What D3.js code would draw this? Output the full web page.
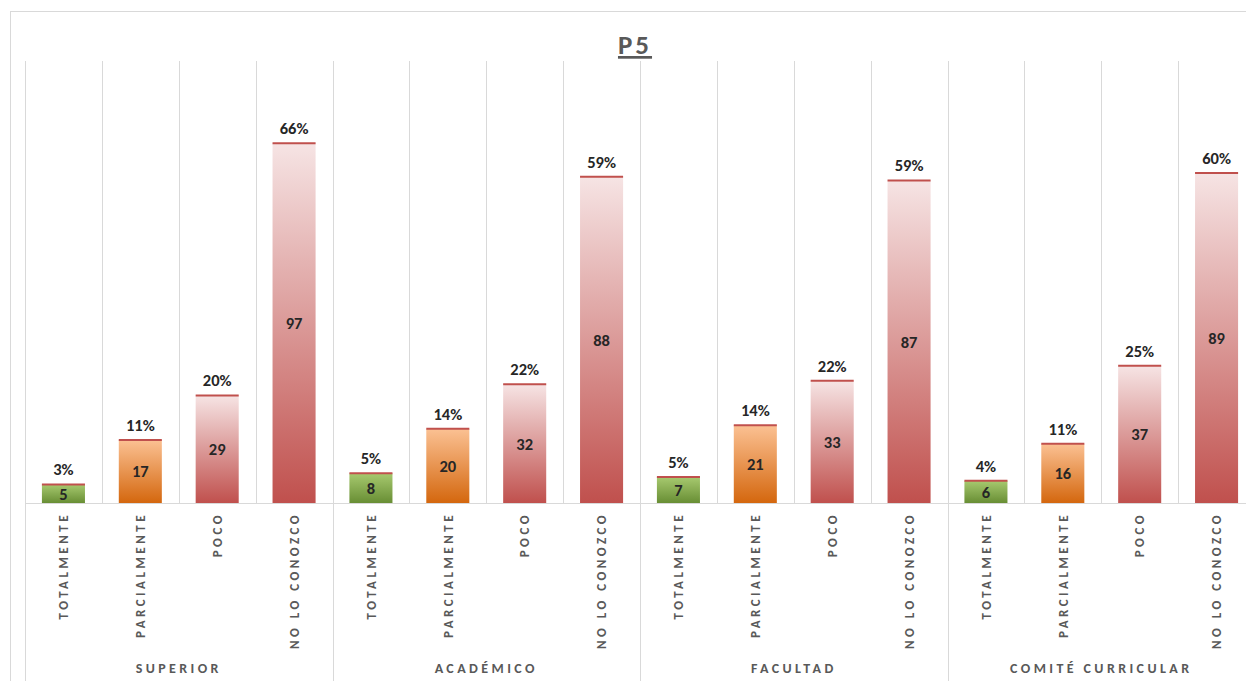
<!DOCTYPE html>
<meta charset="utf-8">
<head>
  <title>P5</title>
</head>

<style>
body { margin: 0; background: #fff; }
text {
  font-family: Calibri, Carlito, Lato, sans-serif;
  font-weight: bold;
}
.grid { stroke: #d9d9d9; stroke-width: 1; shape-rendering: crispEdges; }
.val { fill: #262626; font-size: 16.5px; text-anchor: middle; }
.tick { fill: #595959; font-size: 13px; letter-spacing: 3.5px; }
.group { fill: #595959; font-size: 14px; letter-spacing: 3.4px; text-anchor: middle; }
</style>

<body>
  <svg width="1246" height="681"></svg>

  <script src="https://cdnjs.cloudflare.com/ajax/libs/d3/7.8.5/d3.min.js"></script>
  <script>

var groups = ['SUPERIOR', 'ACADÉMICO', 'FACULTAD', 'COMITÉ CURRICULAR'];
var answers = ['TOTALMENTE', 'PARCIALMENTE', 'POCO', 'NO LO CONOZCO'];

// counts per group, in the order of answers
var counts = [
  [5, 17, 29, 97],
  [8, 20, 32, 88],
  [7, 21, 33, 87],
  [6, 16, 37, 89]
];
// percentage labels
var percents = [
  [3, 11, 20, 66],
  [5, 14, 22, 59],
  [5, 14, 22, 59],
  [4, 11, 25, 60]
];

var gradColors = [
  ['#a7c96f', '#688e34'],
  ['#fbc193', '#d4670e'],
  ['#f6e4e4', '#c0504d'],
  ['#f6e4e4', '#c0504d']
];

var rows = [];
groups.forEach(function(g, gi) {
  answers.forEach(function(a, ai) {
    rows.push({group: g, answer: a, ai: ai, key: g + '|' + a,
               count: counts[gi][ai], pct: percents[gi][ai]});
  });
});

var svg = d3.select('svg');
var left = 25, right = 1255, baseY = 503, topY = 58;

var x = d3.scaleBand()
  .domain(rows.map(function(d) { return d.key; }))
  .range([left, right])
  .paddingInner(0.44)
  .paddingOuter(0.22);

var gx = d3.scaleBand().domain(groups).range([left, right]);

var y = d3.scaleLinear().domain([0, 120]).range([baseY, topY]);

var defs = svg.append('defs');
gradColors.forEach(function(c, i) {
  var lg = defs.append('linearGradient')
    .attr('id', 'grad' + i)
    .attr('x1', 0).attr('y1', 0).attr('x2', 0).attr('y2', 1);
  lg.append('stop').attr('offset', '0%').attr('stop-color', c[0]);
  lg.append('stop').attr('offset', '100%').attr('stop-color', c[1]);
});

// chart frame
svg.append('rect')
  .attr('x', 10.5).attr('y', 11.5)
  .attr('width', 1260).attr('height', 700)
  .attr('fill', 'none')
  .attr('stroke', '#d9d9d9');

// vertical gridlines at each band boundary
var step = x.step();
var bounds = d3.range(rows.length + 1).map(function(i) { return left + i * step; });
svg.selectAll('.vg')
  .data(bounds)
  .enter()
  .append('line')
  .attr('class', 'grid')
  .attr('x1', function(d) { return Math.round(d) + 0.5; })
  .attr('x2', function(d) { return Math.round(d) + 0.5; })
  .attr('y1', 61)
  .attr('y2', function(d, i) { return i % 4 === 0 ? 690 : baseY; });

// category axis line
svg.append('line')
  .attr('class', 'grid')
  .attr('x1', left).attr('x2', right)
  .attr('y1', baseY + 0.5).attr('y2', baseY + 0.5);

var bars = svg.selectAll('.bar')
  .data(rows)
  .enter()
  .append('g');

bars.append('rect')
  .attr('x', function(d) { return x(d.key); })
  .attr('y', function(d) { return y(d.count); })
  .attr('width', x.bandwidth())
  .attr('height', function(d) { return baseY - y(d.count); })
  .attr('fill', function(d) { return 'url(#grad' + d.ai + ')'; });

// red top edge
bars.append('line')
  .attr('x1', function(d) { return x(d.key); })
  .attr('x2', function(d) { return x(d.key) + x.bandwidth(); })
  .attr('y1', function(d) { return y(d.count); })
  .attr('y2', function(d) { return y(d.count); })
  .attr('stroke', '#c0504d')
  .attr('stroke-width', 2);

bars.append('text')
  .attr('class', 'val')
  .attr('x', function(d) { return x(d.key) + x.bandwidth() / 2; })
  .attr('y', function(d) { return y(d.count) - 9; })
  .text(function(d) { return d.pct + '%'; });

bars.append('text')
  .attr('class', 'val')
  .attr('x', function(d) { return x(d.key) + x.bandwidth() / 2; })
  .attr('y', function(d) { return (y(d.count) + baseY) / 2; })
  .attr('dy', '0.36em')
  .text(function(d) { return d.count; });

// rotated answer labels
svg.selectAll('.tick')
  .data(rows)
  .enter()
  .append('text')
  .attr('class', 'tick')
  .attr('text-anchor', 'end')
  .attr('dy', '0.36em')
  .attr('transform', function(d) {
    return 'translate(' + (x(d.key) + x.bandwidth() / 2) + ',' + 512 + ') rotate(-90)';
  })
  .text(function(d) { return d.answer; });

// group labels
svg.selectAll('.group')
  .data(groups)
  .enter()
  .append('text')
  .attr('class', 'group')
  .attr('x', function(d) { return gx(d) + gx.bandwidth() / 2; })
  .attr('y', 673)
  .text(function(d) { return d; });

// title
svg.append('text')
  .attr('x', 635)
  .attr('y', 54)
  .attr('text-anchor', 'middle')
  .attr('fill', '#595959')
  .style('font-size', '27px')
  .style('letter-spacing', '3px')
  .style('text-decoration', 'underline')
  .text('P5');

  </script>
</body>
</html>
